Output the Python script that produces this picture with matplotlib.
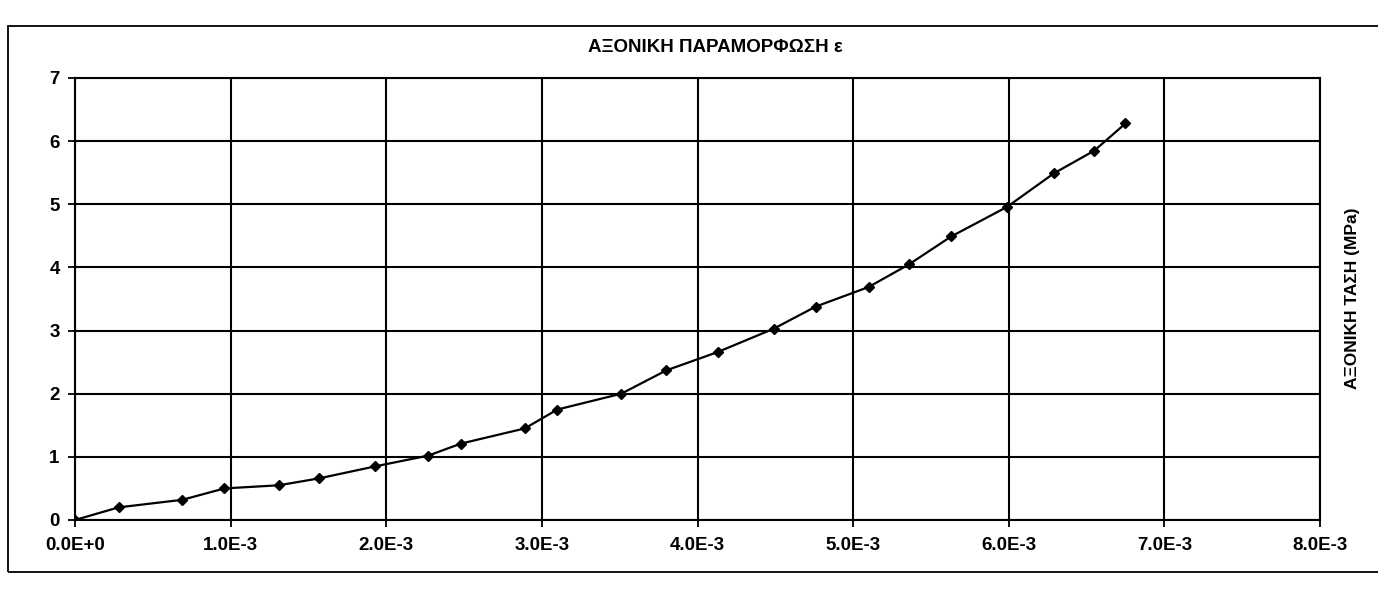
import matplotlib
matplotlib.use("Agg")
import matplotlib.pyplot as plt
from matplotlib.patches import Rectangle
from matplotlib.ticker import FuncFormatter, MultipleLocator

# Axial strain (x 1e-3) and axial stress (MPa)
strain_e3 = [0.00, 0.28, 0.69, 0.96, 1.31, 1.57, 1.93, 2.27, 2.48, 2.89, 3.10, 3.51,
             3.80, 4.13, 4.49, 4.76, 5.10, 5.36, 5.63, 5.99, 6.29, 6.55, 6.75]
stress = [0.00, 0.20, 0.32, 0.50, 0.55, 0.66, 0.85, 1.02, 1.21, 1.45, 1.75, 2.00,
          2.37, 2.66, 3.03, 3.38, 3.69, 4.05, 4.49, 4.96, 5.49, 5.85, 6.28]
strain = [v * 1e-3 for v in strain_e3]

title_text = "ΑΞΟΝΙΚΗ ΠΑΡΑΜΟΡΦΩΣΗ ε"
ylabel_text = "ΑΞΟΝΙΚΗ ΤΑΣΗ (MPa)"

plt.rcParams['font.family'] = ['Liberation Sans', 'DejaVu Sans']

W, H = 1378, 589
fig = plt.figure(figsize=(W / 100, H / 100), dpi=100)
fig.patch.set_facecolor('white')

# chart-area border
fig.patches.append(Rectangle((8 / W, 1 - 572 / H), 1.2, (572 - 26) / H,
                             transform=fig.transFigure, fill=False,
                             edgecolor='black', linewidth=1.3, clip_on=False))

left, right = 75 / W, 1320 / W
top, bottom = 1 - 78 / H, 1 - 520 / H
ax = fig.add_axes([left, bottom, right - left, top - bottom])

ax.plot(strain, stress, color='black', linewidth=1.6, marker='D',
        markersize=5.5, markerfacecolor='black', markeredgecolor='black')

ax.set_xlim(0, 8e-3)
ax.set_ylim(0, 7)
ax.xaxis.set_major_locator(MultipleLocator(1e-3))
ax.yaxis.set_major_locator(MultipleLocator(1))

def fmt(v, pos):
    if abs(v) < 1e-12:
        return "0.0E+0"
    return f"{v / 1e-3:.1f}E-3"

ax.xaxis.set_major_formatter(FuncFormatter(fmt))
ax.grid(True, color='black', linewidth=1.5)
for s in ax.spines.values():
    s.set_color('black')
    s.set_linewidth(1.5)

ax.tick_params(axis='both', direction='out', length=5, width=1.3, colors='black')
ax.tick_params(axis='x', pad=7)
ax.tick_params(axis='y', pad=6)
for lab in ax.get_xticklabels() + ax.get_yticklabels():
    lab.set_fontweight('bold')
    lab.set_fontsize(13.5)

fig.text(715 / W, 1 - 48 / H, title_text, ha='center', va='center',
         fontsize=13.5, fontweight='bold')
fig.text(1352 / W, 1 - 298 / H, ylabel_text, ha='center', va='center',
         rotation=90, fontsize=12.5, fontweight='bold')

fig.savefig("out.png", dpi=100)
